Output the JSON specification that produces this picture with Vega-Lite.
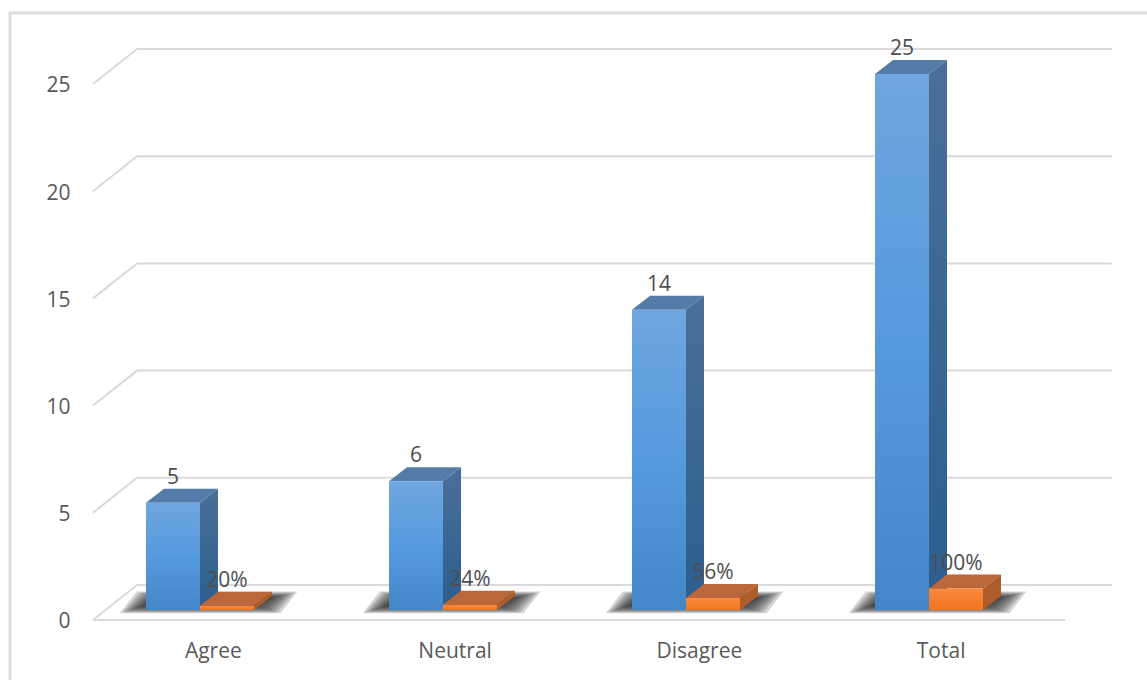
{
  "$schema": "https://vega.github.io/schema/vega-lite/v6.json",
  "width": 1147,
  "height": 680,
  "padding": 0,
  "autosize": "none",
  "background": "white",
  "view": {"stroke": null},
  "config": {"font": "Open Sans", "axis": {"title": null}},
  "datasets": {
    "responses": [
      {"category": "Agree", "series": "Count", "value": 5},
      {"category": "Agree", "series": "Share", "value": 0.2},
      {"category": "Neutral", "series": "Count", "value": 6},
      {"category": "Neutral", "series": "Share", "value": 0.24},
      {"category": "Disagree", "series": "Count", "value": 14},
      {"category": "Disagree", "series": "Share", "value": 0.56},
      {"category": "Total", "series": "Count", "value": 25},
      {"category": "Total", "series": "Share", "value": 1}
    ],
    "ticks": [{"tick": 0}, {"tick": 5}, {"tick": 10}, {"tick": 15}, {"tick": 20}, {"tick": 25}],
    "frame": [
      {"fx": -0.5597, "fy": -3.3},
      {"fx": -0.5597, "fy": 27.85},
      {"fx": 4.13, "fy": 27.85}
    ]
  },
  "layer": [
    {
      "data": {"name": "frame"},
      "mark": {"type": "line", "stroke": "#dcdcdc", "strokeWidth": 3, "clip": false},
      "encoding": {
        "x": {"field": "fx", "type": "quantitative", "scale": {"domain": [-0.6008, 4.1193], "nice": false, "zero": false}, "axis": {"values": [0.275, 1.27, 2.275, 3.27], "labelExpr": "['Agree','Neutral','Disagree','Total'][round(datum.value - 0.275)]", "domain": false, "ticks": false, "grid": false, "labelPadding": -29, "labelBaseline": "middle", "labelFontSize": 21, "labelColor": "#595959", "labelOverlap": false, "labelFlush": false}},
        "y": {"field": "fy", "type": "quantitative", "scale": {"domain": [-3.265, 28.451], "nice": false, "zero": false}, "axis": {"values": [0, 5, 10, 15, 20, 25], "domain": false, "ticks": false, "grid": false, "labelPadding": -70, "labelAlign": "right", "labelOffset": 12, "labelFontSize": 21, "labelColor": "#595959", "labelOverlap": false, "labelFlush": false}},
        "order": {"field": "fx", "type": "quantitative"}
      }
    },
    {
      "data": {"name": "ticks"},
      "transform": [
        {"calculate": "[-0.218, -0.037, 3.975]", "as": "gx"},
        {"calculate": "[datum.tick - 0.466, datum.tick + 1.166, datum.tick + 1.166]", "as": "gy"},
        {"flatten": ["gx", "gy"]}
      ],
      "mark": {"type": "line", "stroke": "#dadada", "strokeWidth": 2},
      "encoding": {
        "x": {"field": "gx", "type": "quantitative"},
        "y": {"field": "gy", "type": "quantitative"},
        "detail": {"field": "tick"}
      }
    },
    {
      "data": {"name": "ticks"},
      "transform": [
        {"filter": "datum.tick === 0"},
        {"calculate": "-0.218", "as": "fx0"},
        {"calculate": "3.782", "as": "fx1"},
        {"calculate": "-0.466", "as": "fy"}
      ],
      "mark": {"type": "rule", "stroke": "#dadada", "strokeWidth": 2},
      "encoding": {
        "x": {"field": "fx0", "type": "quantitative"},
        "x2": {"field": "fx1"},
        "y": {"field": "fy", "type": "quantitative"}
      }
    },
    {
      "data": {"name": "responses"},
      "transform": [
        {"calculate": "indexof(['Agree','Neutral','Disagree','Total'], datum.category)", "as": "idx"},
        {"calculate": "datum.idx + (datum.series === 'Share' ? 0.2222 : 0)", "as": "left"},
        {"calculate": "datum.left + 0.2222", "as": "right"}
      ],
      "layer": [
        {
          "transform": [
            {"filter": "datum.series === 'Count'"},
            {"calculate": "[0, 1, 2, 3, 4, 5, 6, 7, 8, 9]", "as": "spread"},
            {"flatten": ["spread"]},
            {"calculate": "datum.left + 0.0 - 0.012 * datum.spread", "as": "sl"},
            {"calculate": "datum.left + 0.5 + 0.0137 * datum.spread", "as": "sr"},
            {"calculate": "0.25 - 0.045 * datum.spread", "as": "sb"},
            {"calculate": "0.5 + 0.04 * datum.spread", "as": "st"},
            {"calculate": "[datum.sl, datum.sl + 0.07, datum.sr - 0.07, datum.sr]", "as": "sx"},
            {"calculate": "[datum.sb, datum.st, datum.st, datum.st]", "as": "sy"},
            {"calculate": "[datum.sb, datum.sb, datum.sb, datum.st]", "as": "sy2"},
            {"flatten": ["sx", "sy", "sy2"]}
          ],
          "mark": {"type": "area", "fill": "#262626", "fillOpacity": 0.2},
          "encoding": {
            "x": {"field": "sx", "type": "quantitative"},
            "y": {"field": "sy", "type": "quantitative"},
            "y2": {"field": "sy2"},
            "detail": [{"field": "category"}, {"field": "spread"}]
          }
        },
        {
          "transform": [
            {"filter": "datum.series === 'Count'"},
            {"calculate": "[datum.right, datum.right + 0.0741]", "as": "px"},
            {"calculate": "[datum.value, datum.value + 0.653]", "as": "py"},
            {"calculate": "[0, 0.653]", "as": "py2"},
            {"flatten": ["px", "py", "py2"]}
          ],
          "mark": {"type": "area", "fill": {"gradient": "linear", "x1": 0, "y1": 0, "x2": 0, "y2": 1, "stops": [{"offset": 0, "color": "#4a6f97"}, {"offset": 1, "color": "#2c5e8e"}]}},
          "encoding": {
            "x": {"field": "px", "type": "quantitative"},
            "y": {"field": "py", "type": "quantitative"},
            "y2": {"field": "py2"},
            "detail": {"field": "category"}
          }
        },
        {
          "transform": [
            {"filter": "datum.series === 'Count'"},
            {"calculate": "[datum.left, datum.left + 0.0741, datum.right, datum.right + 0.0741]", "as": "px"},
            {"calculate": "[datum.value, datum.value + 0.653, datum.value + 0.653, datum.value + 0.653]", "as": "py"},
            {"calculate": "[datum.value, datum.value, datum.value, datum.value + 0.653]", "as": "py2"},
            {"flatten": ["px", "py", "py2"]}
          ],
          "mark": {"type": "area", "fill": "#557ba8"},
          "encoding": {
            "x": {"field": "px", "type": "quantitative"},
            "y": {"field": "py", "type": "quantitative"},
            "y2": {"field": "py2"},
            "detail": {"field": "category"}
          }
        },
        {
          "transform": [{"filter": "datum.series === 'Count'"}],
          "mark": {"type": "bar", "fill": {"gradient": "linear", "x1": 0, "y1": 0, "x2": 0, "y2": 1, "stops": [{"offset": 0, "color": "#6fa6de"}, {"offset": 0.5, "color": "#569ade"}, {"offset": 1, "color": "#4487c8"}]}},
          "encoding": {
            "x": {"field": "left", "type": "quantitative"},
            "x2": {"field": "right"},
            "y": {"field": "value", "type": "quantitative"},
            "y2": {"datum": 0}
          }
        },
        {
          "transform": [
            {"filter": "datum.series === 'Share'"},
            {"calculate": "[datum.right, datum.right + 0.0741]", "as": "px"},
            {"calculate": "[datum.value, datum.value + 0.653]", "as": "py"},
            {"calculate": "[0, 0.653]", "as": "py2"},
            {"flatten": ["px", "py", "py2"]}
          ],
          "mark": {"type": "area", "fill": "#ad5c2a"},
          "encoding": {
            "x": {"field": "px", "type": "quantitative"},
            "y": {"field": "py", "type": "quantitative"},
            "y2": {"field": "py2"},
            "detail": {"field": "category"}
          }
        },
        {
          "transform": [
            {"filter": "datum.series === 'Share'"},
            {"calculate": "[datum.left, datum.left + 0.0741, datum.right, datum.right + 0.0741]", "as": "px"},
            {"calculate": "[datum.value, datum.value + 0.653, datum.value + 0.653, datum.value + 0.653]", "as": "py"},
            {"calculate": "[datum.value, datum.value, datum.value, datum.value + 0.653]", "as": "py2"},
            {"flatten": ["px", "py", "py2"]}
          ],
          "mark": {"type": "area", "fill": "#b9673b"},
          "encoding": {
            "x": {"field": "px", "type": "quantitative"},
            "y": {"field": "py", "type": "quantitative"},
            "y2": {"field": "py2"},
            "detail": {"field": "category"}
          }
        },
        {
          "transform": [{"filter": "datum.series === 'Share'"}],
          "mark": {"type": "bar", "fill": {"gradient": "linear", "x1": 0, "y1": 0, "x2": 0, "y2": 1, "stops": [{"offset": 0, "color": "#fb8a3e"}, {"offset": 1, "color": "#ef7520"}]}},
          "encoding": {
            "x": {"field": "left", "type": "quantitative"},
            "x2": {"field": "right"},
            "y": {"field": "value", "type": "quantitative"},
            "y2": {"datum": 0}
          }
        },
        {
          "transform": [
            {"calculate": "datum.left + 0.1111", "as": "mid"},
            {"calculate": "datum.series === 'Share' ? format(datum.value, '.0%') : format(datum.value, 'd')", "as": "text"}
          ],
          "mark": {"type": "text", "align": "center", "baseline": "middle", "dy": -25, "fontSize": 21, "fill": "#4d4d4d"},
          "encoding": {
            "x": {"field": "mid", "type": "quantitative"},
            "y": {"field": "value", "type": "quantitative"},
            "text": {"field": "text"}
          }
        }
      ]
    }
  ]
}
